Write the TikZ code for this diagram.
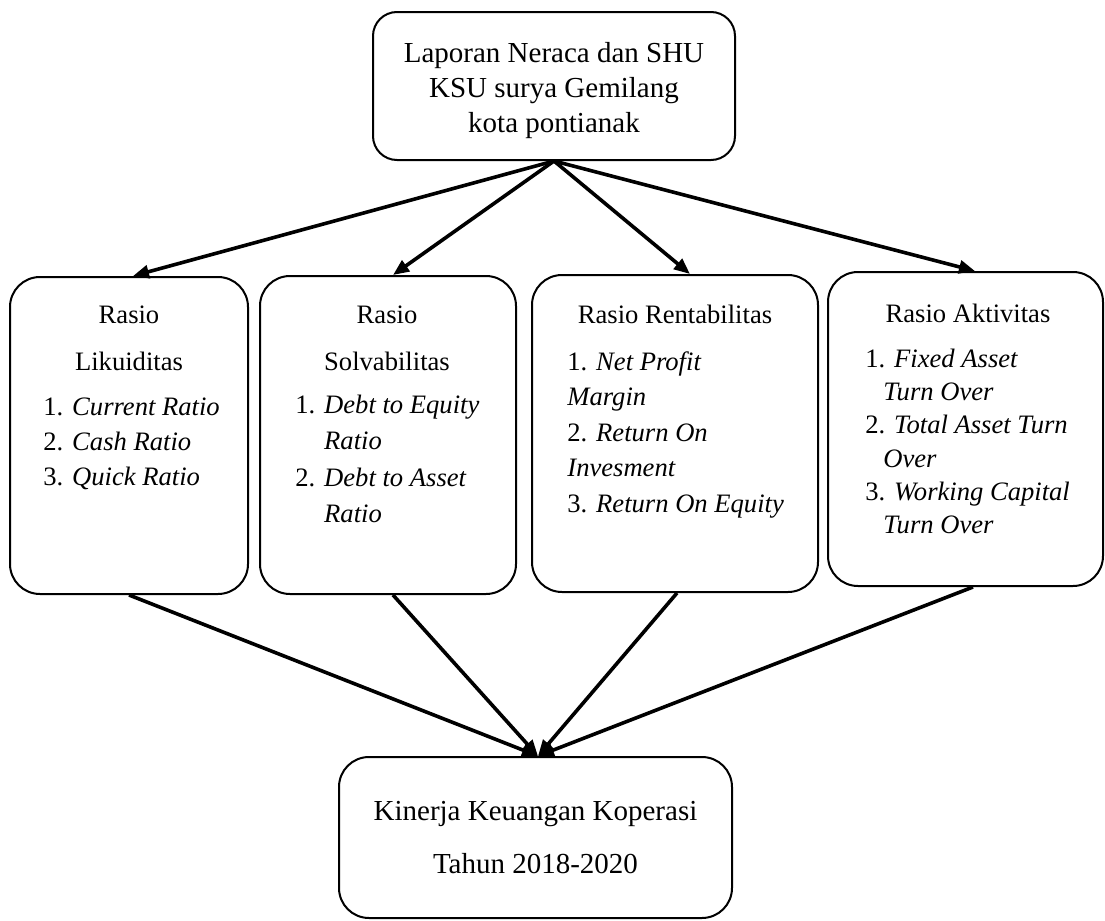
\documentclass[tikz,border=0pt]{standalone}
\usepackage{fontspec}
\setmainfont{Liberation Serif}
\usetikzlibrary{arrows.meta}

\begin{document}
\begin{tikzpicture}[x=0.5pt,y=-0.5pt,
    kotak/.style={draw,line width=1pt,rounded corners=15pt,inner sep=0pt},
    judul/.style={inner sep=0pt,align=center,anchor=north,font=\fontsize{13.3}{17.5}\selectfont},
    isi/.style={inner sep=0pt,align=left,anchor=north west,font=\fontsize{13.3}{17.5}\selectfont},
    panah/.style={line width=1.8pt,-{Triangle[length=8pt,width=6.5pt]}}]
  \useasboundingbox (0,0) rectangle (1105,921);
  % kotak atas dan bawah
  \node[kotak,rounded corners=12pt,minimum width=181pt,minimum height=74pt,align=center,
        font=\fontsize{14.5}{17.5}\selectfont] (laporan) at (554,86)
        {\rule{0pt}{14.9pt}Laporan Neraca dan SHU\\KSU surya Gemilang\\kota pontianak};
  \node[kotak,minimum width=196.5pt,minimum height=80.5pt,align=center,
        font=\fontsize{14.5}{17.5}\selectfont] (kinerja) at (535.5,837.5)
        {Kinerja Keuangan Koperasi\\[9pt]Tahun 2018-2020};
  % empat rasio
  \node[kotak,minimum width=119pt,minimum height=158.5pt] (likuid) at (129,435.5) {};
  \node[kotak,minimum width=128pt,minimum height=159pt] (solva) at (388,435) {};
  \node[kotak,minimum width=143pt,minimum height=158.5pt] (renta) at (675,433.5) {};
  \node[kotak,minimum width=137.5pt,minimum height=157pt] (aktiv) at (965.5,429) {};
  \node[judul] (tlikuid) at (129,298.5) {\strut Rasio\\[6pt]Likuiditas};
  \node[isi] (ilikuid) at (43,390.5)
    {\strut 1. \textit{Current Ratio}\\2. \textit{Cash Ratio}\\3. \textit{Quick Ratio}};
  \node[judul] (tsolva) at (387,298.5) {\strut Rasio\\[6pt]Solvabilitas};
  \node[isi,font=\fontsize{13.3}{18.2}\selectfont] (isolva) at (295,387.5)
    {\strut 1. \textit{Debt to Equity}\\\hphantom{1. }\textit{Ratio}\\
     2. \textit{Debt to Asset}\\\hphantom{1. }\textit{Ratio}};
  \node[judul] (trenta) at (675,298.5) {\strut Rasio Rentabilitas};
  \node[isi,font=\fontsize{13.3}{17.75}\selectfont] (irenta) at (567,345.2)
    {\strut 1. \textit{Net Profit}\\\textit{Margin}\\2. \textit{Return On}\\
     \textit{Invesment}\\3. \textit{Return On Equity}};
  \node[judul] (taktiv) at (968,297.5) {\strut Rasio Aktivitas};
  \node[isi,font=\fontsize{13.3}{16.6}\selectfont] (iaktiv) at (865,343.8)
    {\strut 1. \textit{Fixed Asset}\\\hspace*{9pt}\textit{Turn Over}\\
     2. \textit{Total Asset Turn}\\\hspace*{9pt}\textit{Over}\\
     3. \textit{Working Capital}\\\hspace*{9pt}\textit{Turn Over}};
  % panah
  \draw[panah] (laporan.south) -- ([xshift=2pt]likuid.north);
  \draw[panah] (laporan.south) -- ([xshift=2.5pt]solva.north);
  \draw[panah] (laporan.south) -- ([xshift=7.5pt]renta.north);
  \draw[panah] (laporan.south) -- ([xshift=4.75pt]aktiv.north);
  \draw[panah] (likuid.south) -- ([xshift=1.25pt]kinerja.north);
  \draw[panah] ([xshift=2.5pt]solva.south) -- ([xshift=1.25pt]kinerja.north);
  \draw[panah] ([xshift=1pt]renta.south) -- ([xshift=1.25pt]kinerja.north);
  \draw[panah] ([xshift=3.75pt]aktiv.south) -- ([xshift=1.25pt]kinerja.north);
\end{tikzpicture}
\end{document}
